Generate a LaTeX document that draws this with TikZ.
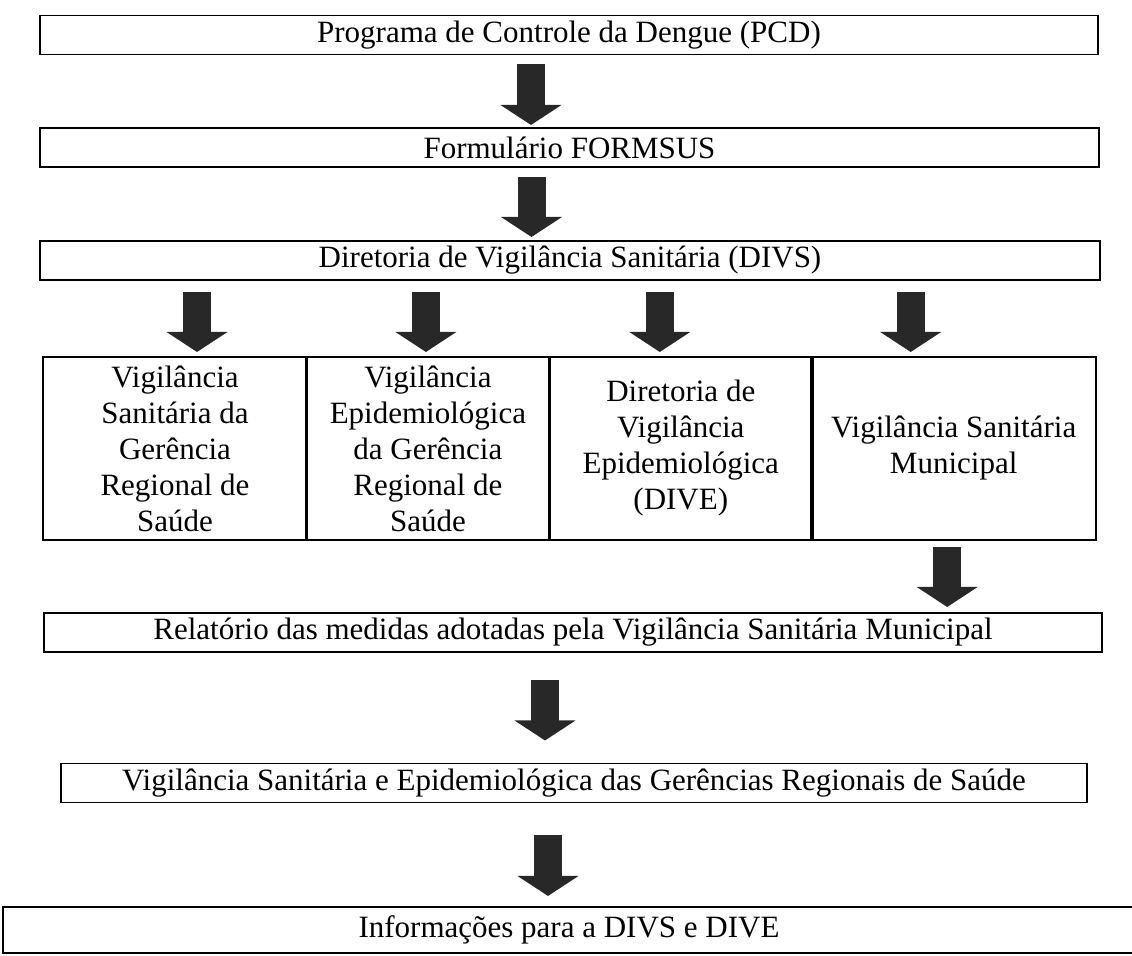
\documentclass[tikz,border=0pt]{standalone}
\usepackage{fontspec}
\setmainfont{Liberation Serif}
\usepackage{xcolor}
\definecolor{arrg}{RGB}{40, 40, 40}
\usetikzlibrary{arrows.meta,positioning}
\begin{document}
\begin{tikzpicture}[x=0.5pt, y=-0.5pt, line width=0.8pt,
	BoxStyle/.style={draw, minimum height=19.5pt, inner sep=0pt, outer sep=0pt, font=\fontsize{15.5}{18}\selectfont},
	CellStyle/.style={draw, minimum height=91.5pt, inner sep=0pt, outer sep=0pt, align=center, font=\fontsize{15.5}{18}\selectfont},
	BlockArrow/.style={arrg, line width=14pt, -{Triangle[width=30pt, length=10pt]}}]
		\useasboundingbox (0,0) rectangle (1132,956);
		\node [BoxStyle, minimum width=529pt] (pcd) at (569,35) {Programa de Controle da Dengue (PCD)};
		\node [BoxStyle, minimum width=529.5pt] (form) at (569.5,147.5) {Formulário FORMSUS};
		\node [BoxStyle, minimum width=530pt] (divs) at (570,260.5) {Diretoria de Vigilância Sanitária (DIVS)};
		\node [CellStyle, minimum width=132pt] (vsgrs) at (175,448.5) {Vigilância\\Sanitária da\\Gerência\\Regional de\\Saúde};
		\node [CellStyle, minimum width=122.5pt, right=-0.8pt of vsgrs] (vegrs) {Vigilância\\Epidemiológica\\da Gerência\\Regional de\\Saúde};
		\node [CellStyle, minimum width=132pt, right=-0.8pt of vegrs] (dive) {Diretoria de\\Vigilância\\Epidemiológica\\(DIVE)};
		\node [CellStyle, minimum width=142.5pt, right=-0.8pt of dive] (vsm) {Vigilância Sanitária\\Municipal};
		\node [BoxStyle, minimum width=529pt] (rel) at (573,632.5) {Relatório das medidas adotadas pela Vigilância Sanitária Municipal};
		\node [BoxStyle, minimum width=513pt] (vsegrs) at (574,783) {Vigilância Sanitária e Epidemiológica das Gerências Regionais de Saúde};
		\node [BoxStyle, minimum width=566pt, minimum height=23pt] (info) at (569,930) {Informações para a DIVS e DIVE};
		\draw[BlockArrow, shorten <=5pt, shorten >=1.5pt] ([xshift=-19pt]pcd.south) -- ([xshift=-19pt]pcd.south |- form.north);
		\draw[BlockArrow, shorten <=5pt, shorten >=2pt] ([xshift=-19pt]form.south) -- ([xshift=-19pt]form.south |- divs.north);
		\draw[BlockArrow, shorten <=6pt, shorten >=2.5pt] ([xshift=11pt]vsgrs.north |- divs.south) -- ([xshift=11pt]vsgrs.north);
		\draw[BlockArrow, shorten <=6pt, shorten >=2.5pt] ([xshift=-1pt]vegrs.north |- divs.south) -- ([xshift=-1pt]vegrs.north);
		\draw[BlockArrow, shorten <=6pt, shorten >=2.5pt] ([xshift=-10.5pt]dive.north |- divs.south) -- ([xshift=-10.5pt]dive.north);
		\draw[BlockArrow, shorten <=6pt, shorten >=2.5pt] ([xshift=-21.5pt]vsm.north |- divs.south) -- ([xshift=-21.5pt]vsm.north);
		\draw[BlockArrow, shorten <=3.5pt, shorten >=3pt] ([xshift=-3.25pt]vsm.south) -- ([xshift=-3.25pt]vsm.south |- rel.north);
		\draw[BlockArrow, shorten <=14pt, shorten >=11.5pt] ([xshift=-14pt]rel.south) -- ([xshift=-14pt]rel.south |- vsegrs.north);
		\draw[BlockArrow, shorten <=16.5pt, shorten >=5.5pt] ([xshift=-13pt]vsegrs.south) -- ([xshift=-13pt]vsegrs.south |- info.north);
	\end{tikzpicture}
\end{document}
